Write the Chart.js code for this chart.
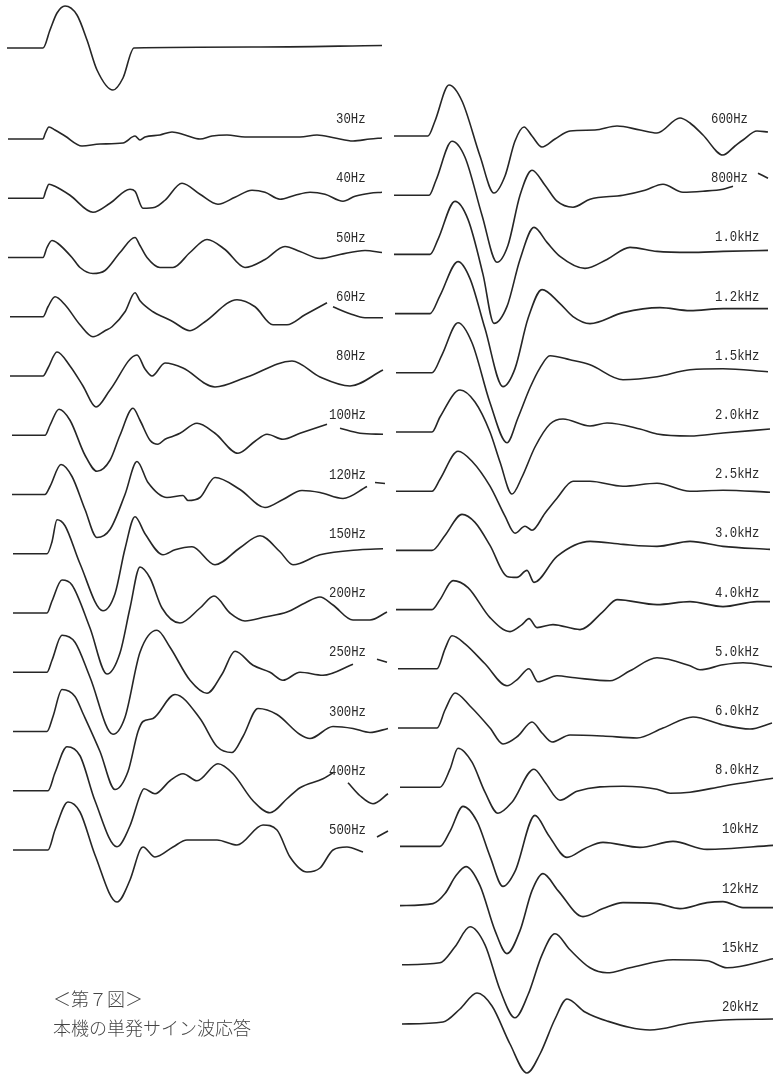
<!DOCTYPE html>
<html>
<head>
<meta charset="utf-8">
<script src="https://cdn.jsdelivr.net/npm/chart.js@4.4.1/dist/chart.umd.min.js"></script>
<style>
	body { margin: 0; background: #fff; }
	#page { position: relative; width: 778px; height: 1075px; overflow: hidden; background: #fff; }
	#plot { position: absolute; left: 0; top: 0; }
	.freq {
		position: absolute;
		font-family: "Liberation Mono", "DejaVu Sans Mono", monospace;
		font-size: 14px;
		line-height: 14px;
		color: #2a2a2a;
		white-space: nowrap;
		transform: scaleX(0.88);
		transform-origin: right center;
	}
	.caption {
		position: absolute;
		left: 53px;
		font-family: "Noto Sans CJK JP", sans-serif;
		font-weight: 300;
		font-size: 18px;
		line-height: 18px;
		color: #444;
		white-space: nowrap;
	}
</style>
</head>
<body>
<div id="page">
	<canvas id="plot" width="778" height="1075"></canvas>
	<div class="caption" style="top:989px">＜第７図＞</div>
	<div class="caption" style="top:1018px">本機の単発サイン波応答</div>
</div>
<script>
// each trace: [time after burst start, amplitude]; null = hidden under the label
const ref    = [[-36,0],[0,0],[7,18],[14,35],[22,42],[34,33],[44,8],[54,-22],[70,-42],[80,-30],[91,0],[210,1],[339,2.5]];
const hz30   = [[-35,0],[0,0],[2,5],[6,12],[12,9],[22,3],[39,-7],[57,-5],[80,-4],[92,3],[97,-1],[102,2],[117,4],[129,7],[142,4],[157,0],[169,3],[184,4],[202,2],[217,2],[237,2],[257,2],[274,4],[292,1],[310,-2],[327,0],[339,1]];
const hz40   = [[-35,0],[0,0],[3,8],[6,14],[12,12],[27,3],[50,-14],[67,-5],[87,9],[92,7],[100,-10],[112,-9],[122,-2],[139,15],[157,4],[175,-6],[192,1],[209,8],[222,6],[237,-1],[252,3],[267,6],[282,4],[300,-3],[312,2],[327,5],[339,6]];
const hz50   = [[-35,0],[0,0],[4,10],[9,17],[15,14],[29,0],[37,-10],[50,-16],[62,-13],[77,5],[92,20],[97,12],[104,0],[117,-10],[130,-10],[147,5],[164,18],[182,8],[202,-10],[222,-2],[242,11],[257,6],[277,-1],[297,3],[322,7],[339,5]];
const hz60   = [[-33,0],[0,0],[5,10],[12,20],[22,12],[37,-8],[50,-20],[62,-14],[69,-10],[82,5],[92,24],[97,16],[110,5],[122,-1],[130,-5],[147,-14],[162,-5],[194,17],[212,10],[230,-8],[244,-8],[262,2],[284,14],[287,null],[290,10],[307,3],[322,-1],[340,-1]];
const hz80   = [[-33,0],[0,0],[5,8],[14,24],[27,10],[40,-10],[53,-31],[67,-14],[94,21],[102,7],[109,0],[122,13],[140,8],[172,-11],[204,-1],[249,15],[277,-1],[307,-10],[340,6]];
const hz100  = [[-31,0],[2,0],[7,10],[16,26],[27,15],[42,-20],[54,-36],[67,-25],[77,0],[90,27],[97,15],[107,-5],[115,-9],[122,-4],[130,-1],[137,2],[154,12],[172,2],[195,-18],[212,-6],[224,1],[240,-4],[257,2],[284,11],[287,null],[297,7],[317,2],[340,1]];
const hz120  = [[-31,0],[2,0],[7,8],[18,30],[29,18],[42,-15],[54,-43],[67,-35],[82,0],[94,33],[105,12],[124,-3],[140,-1],[145,-6],[157,-3],[172,17],[197,5],[222,-13],[240,-5],[259,4],[277,2],[300,-4],[324,8],[328,null],[332,12],[342,11]];
const hz150  = [[-30,0],[4,0],[9,12],[14,34],[22,28],[37,-10],[60,-57],[72,-40],[82,5],[92,37],[102,20],[120,-1],[132,4],[149,7],[172,-11],[197,6],[217,18],[237,2],[250,-11],[277,-1],[317,4],[340,5]];
const hz200  = [[-30,0],[4,0],[9,12],[19,33],[29,28],[47,-15],[64,-61],[77,-40],[87,5],[97,46],[107,35],[119,5],[137,-10],[157,5],[171,17],[187,0],[202,-8],[222,-4],[244,1],[262,10],[277,16],[290,8],[310,-7],[327,-7],[344,1]];
const hz250  = [[-30,0],[4,0],[9,12],[19,37],[32,30],[47,-5],[70,-62],[82,-45],[97,20],[114,42],[127,25],[147,-8],[164,-21],[179,-2],[192,21],[210,7],[227,0],[240,-8],[257,0],[280,-3],[310,8],[320,null],[334,13],[344,10]];
const hz300  = [[-30,0],[4,0],[10,15],[19,42],[32,35],[40,18],[57,-20],[72,-58],[85,-40],[95,0],[100,10],[110,13],[132,37],[157,13],[174,-15],[189,-21],[200,-5],[215,23],[234,17],[257,-3],[267,-7],[290,5],[310,3],[327,-1],[345,3]];
const hz400  = [[-30,0],[5,0],[12,18],[24,44],[37,35],[52,-10],[74,-56],[87,-35],[97,-5],[101,2],[112,-3],[127,10],[140,17],[154,10],[175,27],[190,17],[210,-10],[227,-22],[244,-8],[257,3],[280,12],[290,18],[293,null],[305,8],[317,-5],[330,-13],[345,-3]];
const hz500  = [[-30,0],[5,0],[12,20],[25,48],[37,38],[52,-5],[74,-52],[87,-30],[97,0],[100,3],[112,-7],[130,3],[144,10],[174,10],[194,5],[220,25],[234,20],[247,-7],[264,-22],[277,-18],[290,0],[304,3],[320,-2],[325,null],[334,13],[345,19]];

const hz600  = [[-34,0],[0,0],[7,15],[21,51],[34,35],[52,-20],[66,-57],[77,-40],[87,-5],[96,9],[104,0],[114,-11],[127,-3],[142,5],[167,6],[189,10],[212,6],[229,3],[252,18],[262,13],[275,1],[295,-19],[307,-10],[315,-4],[329,5],[340,4]];
const hz800  = [[-34,0],[1,0],[8,15],[24,54],[37,38],[54,-20],[69,-67],[80,-50],[92,0],[104,25],[117,10],[129,-6],[145,-12],[162,-4],[195,0],[217,5],[235,11],[255,3],[275,4],[295,6],[305,9],[320,null],[330,22],[340,17]];
const k1_0   = [[-34,0],[2,0],[10,15],[27,53],[40,35],[55,-20],[66,-69],[79,-52],[92,-5],[106,27],[119,12],[132,-2],[157,-14],[179,-5],[202,7],[229,3],[262,2],[295,3],[340,4]];
const k1_2   = [[-33,0],[2,0],[12,18],[30,52],[42,35],[57,-15],[75,-73],[87,-55],[100,-5],[114,24],[132,10],[145,-3],[162,-10],[195,1],[232,6],[262,3],[295,5],[340,5]];
const k1_5   = [[-32,0],[4,0],[14,18],[30,50],[44,30],[62,-30],[79,-70],[90,-45],[102,-15],[112,5],[122,17],[142,13],[162,8],[195,-7],[229,-4],[262,3],[295,4],[340,1]];
const k2_0   = [[-32,0],[4,0],[12,15],[32,42],[47,30],[62,0],[72,-30],[84,-62],[94,-45],[107,-15],[122,8],[135,13],[162,6],[179,9],[212,3],[229,-2],[262,-4],[295,-1],[342,3]];
const k2_5   = [[-32,0],[4,0],[12,12],[30,40],[44,30],[62,5],[77,-25],[87,-42],[97,-35],[104,-39],[117,-22],[129,-7],[145,10],[162,10],[195,5],[229,8],[262,0],[295,1],[342,-1]];
const k3_0   = [[-32,0],[4,0],[17,15],[34,36],[47,28],[62,5],[79,-26],[89,-27],[99,-20],[106,-32],[129,-6],[162,9],[195,6],[229,4],[262,9],[295,4],[342,1]];
const k4_0   = [[-32,0],[4,0],[12,10],[25,29],[40,22],[62,-8],[82,-22],[94,-15],[101,-9],[109,-18],[125,-15],[152,-20],[175,-2],[189,10],[229,5],[262,8],[295,3],[329,8],[342,8]];
const k5_0   = [[-30,0],[9,0],[17,20],[24,33],[37,25],[57,5],[79,-17],[90,-10],[101,0],[110,-13],[129,-7],[147,-9],[182,-12],[202,-2],[229,11],[262,3],[272,-1],[295,4],[315,6],[344,2]];
const k6_0   = [[-30,0],[9,0],[17,18],[27,35],[42,22],[62,0],[75,-16],[90,-8],[104,6],[114,-5],[124,-14],[142,-7],[175,-8],[209,-10],[235,0],[265,11],[295,3],[322,-1],[344,5]];
const k8_0   = [[-28,0],[12,0],[22,18],[30,39],[44,25],[57,-5],[70,-26],[84,-15],[106,18],[117,5],[132,-13],[149,-4],[195,1],[229,-2],[242,-6],[262,-5],[295,1],[345,9]];
const k10    = [[-28,0],[12,0],[22,15],[35,40],[49,25],[62,-10],[75,-40],[87,-25],[107,31],[120,12],[139,-11],[157,-2],[175,4],[212,-1],[245,5],[279,-3],[345,1]];
const k12    = [[-28,0],[5,2],[17,12],[28,30],[38,39],[52,20],[67,-25],[79,-48],[92,-25],[104,15],[115,32],[130,15],[155,-11],[175,-3],[195,3],[229,2],[252,-3],[279,3],[295,4],[315,-2],[345,-2]];
const k15    = [[-26,0],[12,2],[27,18],[42,38],[57,20],[72,-25],[87,-53],[100,-30],[114,10],[127,31],[142,15],[162,-3],[179,-8],[202,-3],[245,5],[279,4],[299,-3],[345,6]];
const k20    = [[-26,0],[15,2],[32,15],[49,31],[64,18],[82,-20],[99,-49],[112,-30],[127,5],[139,25],[157,12],[179,3],[222,-6],[262,1],[295,4],[345,5]];

const leftTraces  = [ref, hz30, hz40, hz50, hz60, hz80, hz100, hz120, hz150, hz200, hz250, hz300, hz400, hz500];
const leftLabels  = ["", "30Hz", "40Hz", "50Hz", "60Hz", "80Hz", "100Hz", "120Hz", "150Hz", "200Hz", "250Hz", "300Hz", "400Hz", "500Hz"];
const rightTraces = [hz600, hz800, k1_0, k1_2, k1_5, k2_0, k2_5, k3_0, k4_0, k5_0, k6_0, k8_0, k10, k12, k15, k20];
const rightLabels = ["600Hz", "800Hz", "1.0kHz", "1.2kHz", "1.5kHz", "2.0kHz", "2.5kHz", "3.0kHz", "4.0kHz", "5.0kHz", "6.0kHz", "8.0kHz", "10kHz", "12kHz", "15kHz", "20kHz"];

// page layout of the two columns (pixels)
const columns = [
	{traces: leftTraces, labels: leftLabels, t0: 43, labelRight: 366, labelLift: 20,
		baseline: i => i === 0 ? 48 : 139 + (i - 1) * 59.25},
	{traces: rightTraces, labels: rightLabels, t0: 428, labelRight: 759, labelLift: 17,
		baseline: i => 136 + i * 59.2}
];
const labelShift = {"600Hz": -11, "800Hz": -11};

const page = document.getElementById("page");
const datasets = [];
for(const col of columns) {
	col.traces.forEach(function(trace, i) {
		const base = col.baseline(i);
		datasets.push({
			data: trace.map(p => ({x: col.t0 + p[0], y: p[1] === null ? null : base - p[1]})),
			borderColor: "#262626",
			borderWidth: 1.6,
			pointRadius: 0,
			cubicInterpolationMode: "monotone",
			spanGaps: false,
			clip: false
		});
		const text = col.labels[i];
		if(!text)
			return;
		const lab = document.createElement("div");
		lab.className = "freq";
		lab.innerText = text;
		lab.style.right = (778 - col.labelRight - (labelShift[text] || 0)) + "px";
		lab.style.top = (base - col.labelLift - 7) + "px";
		page.appendChild(lab);
	});
}

new Chart(document.getElementById("plot").getContext("2d"), {
	type: "line",
	data: {datasets: datasets},
	options: {
		responsive: false,
		animation: false,
		devicePixelRatio: 1,
		layout: {padding: 0},
		plugins: {legend: {display: false}, tooltip: {enabled: false}},
		scales: {
			x: {type: "linear", min: 0, max: 778, display: false},
			y: {type: "linear", min: 0, max: 1075, reverse: true, display: false}
		}
	}
});
</script>
</body>
</html>
